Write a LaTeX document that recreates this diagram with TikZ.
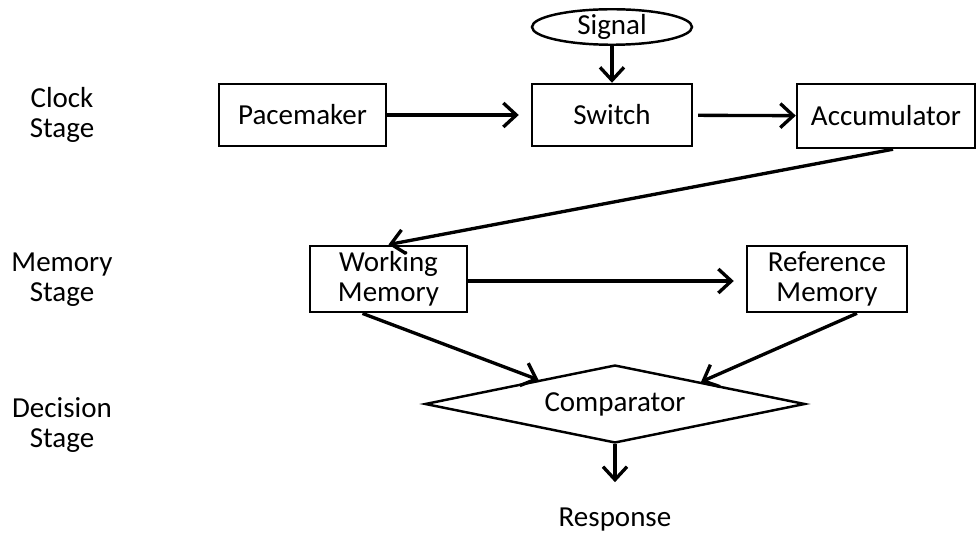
\documentclass[tikz,border=0pt]{standalone}
\usepackage{fontspec}
\setmainfont{Carlito}
\usetikzlibrary{shapes.geometric, arrows.meta, calc}
\tikzstyle{block} = [rectangle, minimum height=1.24cm, text centered, draw=black, line width=1.4pt, align=center]
\tikzstyle{signal} = [ellipse, minimum width=3.2cm, minimum height=0.68cm, inner sep=0pt, text centered, draw=black, line width=1.4pt]
\tikzstyle{decision} = [diamond, aspect=4.87, minimum width=7.6cm, minimum height=1.56cm, inner sep=0pt, text centered, draw=black, line width=1.4pt]
\tikzstyle{stage} = [align=center]
\tikzstyle{arrow} = [line width=1.9pt,-{Straight Barb[length=2.6mm,width=4.8mm]}]

\begin{document}
\begin{tikzpicture}[font=\fontsize{16.5}{17}\selectfont]
\useasboundingbox (0,0) rectangle (19.54,-10.66);
% stages
\node (clk) [stage] at (1.24,-2.3) {Clock\\Stage};
\node (mem) [stage] at (1.24,-5.6) {Memory\\Stage};
\node (dec) [stage] at (1.24,-8.5) {Decision\\Stage};

\node (sig) [signal] at (12.24,-0.54) {Signal};
\node (pace) [block, minimum width=3.34cm] at (6.05,-2.3) {Pacemaker};
\node (sw) [block, minimum width=3.2cm] at (12.24,-2.3) {Switch};
\node (acc) [block, minimum width=3.56cm, minimum height=1.28cm] at (17.72,-2.32) {Accumulator};
\node (wm) [block, minimum width=3.14cm] at (7.77,-5.58) {Working\\Memory};
\node (rm) [block, minimum width=3.2cm] at (16.54,-5.58) {Reference\\Memory};
\node (comp) [decision] at (12.3,-8.08) {\raisebox{-0.06cm}{Comparator}};
\node (resp) at (12.3,-10.4) {Response};

\draw [arrow] (sig) -- (sw);
\draw [arrow, shorten >=0.24cm] (pace) -- (sw);
\draw [arrow, shorten <=0.1cm] (sw) -- (acc);
\draw [arrow] ([xshift=0.14cm]acc.south) -- (wm.north);
\draw [arrow, shorten >=0.24cm] ([yshift=-0.04cm]wm.east) -- ([yshift=-0.04cm]rm.west);
\draw [arrow] ([xshift=-0.52cm]wm.south) -- ($(comp.north)!0.4!(comp.west)$);
\draw [arrow] ([xshift=0.6cm]rm.south) -- ($(comp.north)!0.45!(comp.east)$);
\draw [arrow, shorten >=0.4cm] (comp.south) -- (resp.north);
\end{tikzpicture}
\end{document}
